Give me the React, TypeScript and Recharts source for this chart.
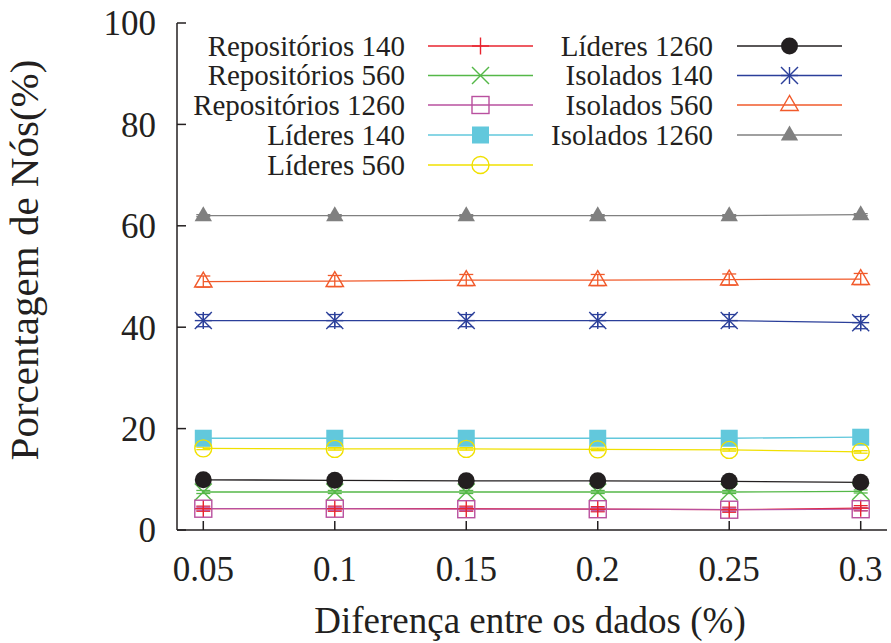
import React from 'react';
import { LineChart, Line, XAxis, YAxis, ErrorBar, Legend } from 'recharts';

const xValues = [0.05, 0.1, 0.15, 0.2, 0.25, 0.3];
const xTicks = [0.05, 0.1, 0.15, 0.2, 0.25, 0.3];
const yTicks = [0, 20, 40, 60, 80, 100];

const repositorios140 = [4.2, 4.2, 4.2, 4.1, 4.0, 4.3];
const repositorios560 = [7.5, 7.5, 7.5, 7.5, 7.5, 7.6];
const repositorios1260 = [4.2, 4.2, 4.1, 4.1, 4.0, 4.1];
const lideres140 = [18.1, 18.1, 18.1, 18.1, 18.1, 18.3];
const lideres560 = [16.1, 16.0, 16.0, 15.9, 15.8, 15.4];
const lideres1260 = [9.9, 9.8, 9.7, 9.7, 9.6, 9.4];
const isolados140 = [41.3, 41.3, 41.3, 41.3, 41.3, 40.9];
const isolados560 = [49.0, 49.1, 49.3, 49.3, 49.4, 49.5];
const isolados1260 = [62.0, 62.0, 62.0, 62.0, 62.0, 62.2];

const repositorios140Err = [0.5, 0.5, 0.5, 0.5, 0.5, 0.5];
const repositorios560Err = [0.3, 0.3, 0.3, 0.3, 0.3, 0.3];
const repositorios1260Err = [0.3, 0.3, 0.3, 0.3, 0.3, 0.3];
const lideres140Err = [0.2, 0.2, 0.2, 0.2, 0.2, 0.2];
const lideres560Err = [0.25, 0.25, 0.25, 0.25, 0.25, 0.25];
const lideres1260Err = [0.2, 0.2, 0.2, 0.2, 0.2, 0.2];
const isolados140Err = [1.2, 1.2, 1.2, 1.2, 1.2, 1.2];
const isolados560Err = [1.1, 1.1, 1.1, 1.1, 1.1, 1.1];
const isolados1260Err = [0.2, 0.2, 0.2, 0.2, 0.2, 0.2];

type Shape = 'plus' | 'cross' | 'openSquare' | 'filledSquare' | 'openCircle' | 'filledCircle' | 'star' | 'openTriangle' | 'filledTriangle';

const series: { key: string; name: string; color: string; shape: Shape; values: number[]; errs: number[] }[] = [
  { key: 'rep140', name: 'Repositórios 140', color: '#e8242f', shape: 'plus', values: repositorios140, errs: repositorios140Err },
  { key: 'rep560', name: 'Repositórios 560', color: '#55b848', shape: 'cross', values: repositorios560, errs: repositorios560Err },
  { key: 'rep1260', name: 'Repositórios 1260', color: '#b9509f', shape: 'openSquare', values: repositorios1260, errs: repositorios1260Err },
  { key: 'lid140', name: 'Líderes 140', color: '#62c8dc', shape: 'filledSquare', values: lideres140, errs: lideres140Err },
  { key: 'lid560', name: 'Líderes 560', color: '#f0e000', shape: 'openCircle', values: lideres560, errs: lideres560Err },
  { key: 'lid1260', name: 'Líderes 1260', color: '#231f20', shape: 'filledCircle', values: lideres1260, errs: lideres1260Err },
  { key: 'iso140', name: 'Isolados 140', color: '#2b3f9a', shape: 'star', values: isolados140, errs: isolados140Err },
  { key: 'iso560', name: 'Isolados 560', color: '#f15a2b', shape: 'openTriangle', values: isolados560, errs: isolados560Err },
  { key: 'iso1260', name: 'Isolados 1260', color: '#808080', shape: 'filledTriangle', values: isolados1260, errs: isolados1260Err },
];

const chartData = xValues.map((x, i) => {
  const row: Record<string, number> = { x };
  series.forEach((s) => {
    row[s.key] = s.values[i];
    row[s.key + 'Err'] = s.errs[i];
  });
  return row;
});

const FONT = "'Liberation Serif', 'DejaVu Serif', serif";
const TEXT = '#231f20';

function drawMarker(shape: Shape, cx: number, cy: number, color: string, key?: string | number) {
  const h = 8.5;
  const sw = 1.4;
  switch (shape) {
    case 'plus':
      return (
        <g key={key}>
          <line x1={cx - h} y1={cy} x2={cx + h} y2={cy} stroke={color} strokeWidth={sw} />
          <line x1={cx} y1={cy - h} x2={cx} y2={cy + h} stroke={color} strokeWidth={sw} />
        </g>
      );
    case 'cross':
      return (
        <g key={key}>
          <line x1={cx - h} y1={cy - h} x2={cx + h} y2={cy + h} stroke={color} strokeWidth={sw} />
          <line x1={cx - h} y1={cy + h} x2={cx + h} y2={cy - h} stroke={color} strokeWidth={sw} />
        </g>
      );
    case 'star':
      return (
        <g key={key}>
          <line x1={cx - h} y1={cy} x2={cx + h} y2={cy} stroke={color} strokeWidth={sw} />
          <line x1={cx} y1={cy - h} x2={cx} y2={cy + h} stroke={color} strokeWidth={sw} />
          <line x1={cx - h} y1={cy - h} x2={cx + h} y2={cy + h} stroke={color} strokeWidth={sw} />
          <line x1={cx - h} y1={cy + h} x2={cx + h} y2={cy - h} stroke={color} strokeWidth={sw} />
        </g>
      );
    case 'openSquare':
      return <rect key={key} x={cx - h} y={cy - h} width={2 * h} height={2 * h} fill="none" stroke={color} strokeWidth={sw} />;
    case 'filledSquare':
      return <rect key={key} x={cx - h} y={cy - h} width={2 * h} height={2 * h} fill={color} stroke="none" />;
    case 'openCircle':
      return <circle key={key} cx={cx} cy={cy} r={h} fill="none" stroke={color} strokeWidth={sw} />;
    case 'filledCircle':
      return <circle key={key} cx={cx} cy={cy} r={h} fill={color} stroke="none" />;
    case 'openTriangle':
      return (
        <polygon key={key} points={`${cx},${cy - 9.5} ${cx - 8.7},${cy + 5.5} ${cx + 8.7},${cy + 5.5}`} fill="none" stroke={color} strokeWidth={sw} />
      );
    case 'filledTriangle':
    default:
      return <polygon key={key} points={`${cx},${cy - 9.5} ${cx - 8.7},${cy + 5.5} ${cx + 8.7},${cy + 5.5}`} fill={color} stroke="none" />;
  }
}

const makeDot = (shape: Shape, color: string) => (props: any) => {
  const { cx, cy, index } = props;
  if (cx == null || cy == null) return <g key={`d-${index}`} />;
  return drawMarker(shape, cx, cy, color, `d-${index}`);
};

const renderLegend = (props: any) => {
  const payload: any[] = props.payload || [];
  const ordered = series
    .map((s) => payload.find((p) => p.dataKey === s.key) ? s : null)
    .filter(Boolean) as typeof series;
  const rows = [46, 75.5, 105, 135, 165];
  return (
    <svg width={891} height={200} style={{ position: 'absolute', left: 0, top: 0, overflow: 'visible' }}>
      {ordered.map((s, i) => {
        const col = i < 5 ? 0 : 1;
        const row = i < 5 ? i : i - 5;
        const y = rows[row];
        const textRight = col === 0 ? 405 : 713;
        const lx1 = col === 0 ? 428 : 737;
        const lx2 = col === 0 ? 533 : 842;
        const mx = (lx1 + lx2) / 2;
        return (
          <g key={s.key}>
            <text x={textRight} y={y + 9.5} textAnchor="end" fontFamily={FONT} fontSize={29} fill={TEXT}>
              {s.name}
            </text>
            <line x1={lx1} y1={y} x2={lx2} y2={y} stroke={s.color} strokeWidth={1.3} />
            {drawMarker(s.shape, mx, y, s.color)}
          </g>
        );
      })}
    </svg>
  );
};

const XTitle = (props: any) => {
  const vb = props.viewBox || { x: 177, width: 710 };
  const cx = vb.x + vb.width / 2 - 2;
  return (
    <text x={cx} y={633} textAnchor="middle" fontFamily={FONT} fontSize={37} fill={TEXT}>
      Diferença entre os dados (%)
    </text>
  );
};

const YTitle = () => {
  const cx = 38;
  const cy = 260;
  return (
    <text x={cx} y={cy} transform={`rotate(-90 ${cx} ${cy})`} textAnchor="middle" fontFamily={FONT} fontSize={41} fill={TEXT}>
      Porcentagem de Nós(%)
    </text>
  );
};

const noTick = () => <g />;

const axisStroke = { stroke: TEXT, strokeWidth: 1.5 };
const tickStyle = { fontSize: 35, fill: TEXT, fontFamily: FONT };

export default function App() {
  return (
    <div style={{ position: 'absolute', left: 0, top: 0, width: 891, height: 643, background: '#fff' }}>
      <LineChart width={891} height={643} data={chartData} margin={{ top: 23, right: 4, bottom: 0, left: 0 }}>
        <XAxis
          xAxisId="bottom"
          dataKey="x"
          type="number"
          domain={[0.04, 0.31]}
          ticks={xTicks}
          allowDataOverflow
          height={113}
          axisLine={axisStroke}
          tickLine={axisStroke}
          tickSize={-9}
          tickMargin={35}
          tick={tickStyle}
          tickFormatter={(v: number) => String(v)}
          label={{ content: XTitle }}
        />
        <XAxis
          xAxisId="top"
          orientation="top"
          dataKey="x"
          type="number"
          domain={[0.04, 0.31]}
          ticks={xTicks}
          allowDataOverflow
          height={0}
          axisLine={axisStroke}
          tickLine={axisStroke}
          tickSize={-9}
          tick={noTick}
        />
        <YAxis
          yAxisId="left"
          type="number"
          domain={[0, 100]}
          ticks={yTicks}
          width={177}
          axisLine={axisStroke}
          tickLine={axisStroke}
          tickSize={-9}
          tickMargin={30}
          tick={tickStyle}
          label={{ content: YTitle }}
        />
        <YAxis
          yAxisId="right"
          orientation="right"
          type="number"
          domain={[0, 100]}
          ticks={yTicks}
          width={0}
          axisLine={axisStroke}
          tickLine={axisStroke}
          tickSize={-9}
          tick={noTick}
        />
        <Legend
          layout="horizontal"
          verticalAlign="middle"
          align="center"
          content={renderLegend}
          wrapperStyle={{ left: 0, top: 0, width: 891, height: 200, pointerEvents: 'none' }}
        />
        {series.map((s) => (
          <Line
            key={s.key}
            xAxisId="bottom"
            yAxisId="left"
            type="linear"
            dataKey={s.key}
            name={s.name}
            stroke={s.color}
            strokeWidth={1.3}
            dot={makeDot(s.shape, s.color)}
            activeDot={false}
            isAnimationActive={false}
          >
            <ErrorBar dataKey={s.key + 'Err'} direction="y" width={7} stroke={s.color} strokeWidth={1.3} isAnimationActive={false} />
          </Line>
        ))}
      </LineChart>
    </div>
  );
}
